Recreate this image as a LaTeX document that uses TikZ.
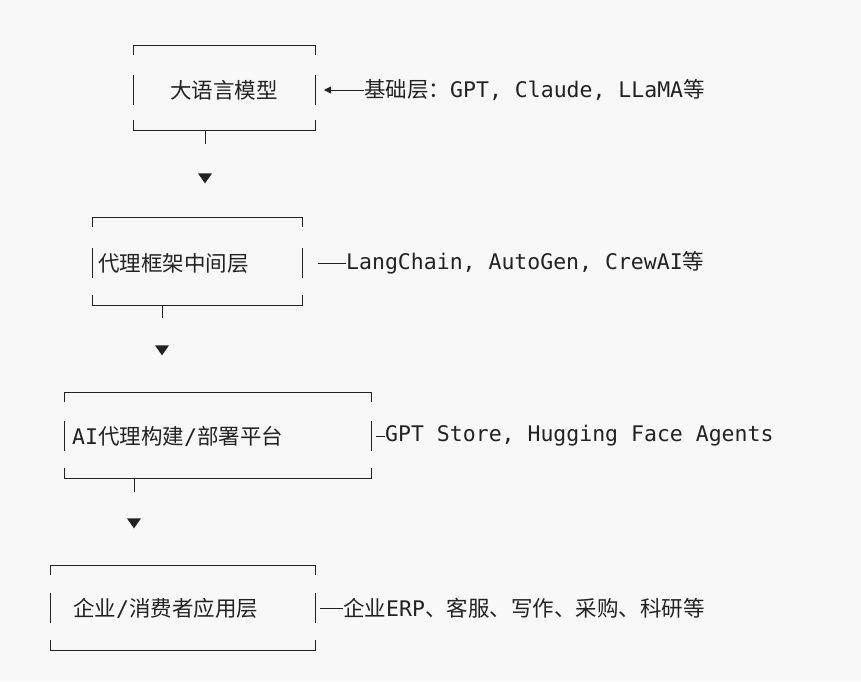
\documentclass[tikz,border=0pt]{standalone}
\usepackage{fontspec}
\setmainfont{DejaVu Sans Mono}
\newfontfamily\cjk{Noto Sans CJK SC}
\usetikzlibrary{positioning,arrows.meta,shapes.geometric}
\definecolor{ink}{RGB}{34,34,34}
\definecolor{paper}{RGB}{248,248,248}
\tikzset{
  box/.style={draw=ink, line width=0.9pt},
  txt/.style={text=ink, font=\fontsize{21.5}{24}\selectfont, inner sep=0pt, anchor=west},
  tri/.style={fill=ink, isosceles triangle, shape border rotate=-90, isosceles triangle apex angle=70, inner sep=0pt, minimum height=10pt, minimum width=12pt}
}
% one layer: x1, x2, ytop, ymid, ybot
\newcommand{\layerbox}[5]{%
  \draw[box] (#1,#3+10) -- (#1,#3) -- (#2,#3) -- (#2,#3+10);
  \draw[box] (#1,#4-15) -- (#1,#4+15);
  \draw[box] (#2,#4-15) -- (#2,#4+15);
  \draw[box] (#1,#5-10) -- (#1,#5) -- (#2,#5) -- (#2,#5-10);
}
\begin{document}
\begin{tikzpicture}[x=1pt,y=-1pt]
\fill[paper] (0,0) rectangle (861,681);
\useasboundingbox (0,0) rectangle (861,681);

\layerbox{133}{315}{45}{90}{130}
\layerbox{92}{302}{217}{263}{305}
\layerbox{64}{371}{392}{436}{478}
\layerbox{50}{315}{565}{608}{650}

\node[txt] (llm) at (170,90) {\cjk 大语言模型};
\node[txt] (agent) at (98,263) {\cjk 代理框架中间层};
\node[txt] (plat) at (72,436) {AI{\cjk 代理构建}/{\cjk 部署平台}};
\node[txt] (app) at (73,608) {{\cjk 企业}/{\cjk 消费者应用层}};

\node[txt] (l1) at (364,90) {{\cjk 基础层：}GPT, Claude, LLaMA{\cjk 等}};
\node[txt] (l2) at (346,263) {LangChain, AutoGen, CrewAI{\cjk 等}};
\node[txt] (l3) at (385,436) {GPT Store, Hugging Face Agents};
\node[txt] (l4) at (343,608) {{\cjk 企业}ERP{\cjk 、客服、写作、采购、科研等}};

\draw[ink, line width=0.9pt, {Triangle[length=7pt,width=7pt]}-] (324,90) -- (l1.west);
\draw[ink, line width=0.9pt] (318,263) -- (l2.west);
\draw[ink, line width=0.9pt] (376,436) -- (l3.west);
\draw[ink, line width=0.9pt] (320,608) -- (l4.west);

\node[tri] (a1) at (205,177) {};
\node[tri] (a2) at (162,349) {};
\node[tri] (a3) at (134,522) {};
\draw[box] (205,130) -- (205,144);
\draw[box] (162,305) -- (162,318);
\draw[box] (134,478) -- (134,492);
\end{tikzpicture}
\end{document}
